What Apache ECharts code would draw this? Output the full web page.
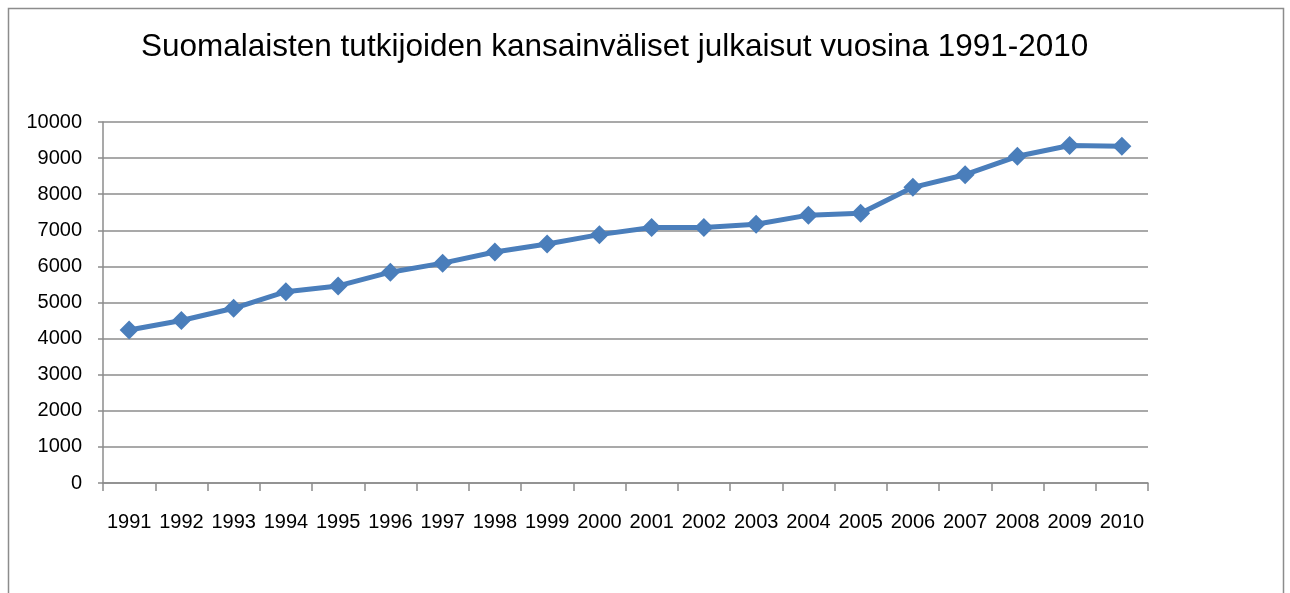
<!DOCTYPE html>
<html>
<head>
<meta charset="utf-8">
<script src="https://cdn.jsdelivr.net/npm/echarts@6/dist/echarts.min.js"></script>
<style>
  html, body { margin: 0; padding: 0; background: #fff; }
  #chart { width: 1290px; height: 593px; }
</style>
</head>
<body>
<div id="chart"></div>
<script>
// data
var years = ['1991', '1992', '1993', '1994', '1995', '1996', '1997', '1998', '1999', '2000',
  '2001', '2002', '2003', '2004', '2005', '2006', '2007', '2008', '2009', '2010']
var publications = [4240, 4500, 4840, 5300, 5460, 5840, 6090, 6400, 6620, 6880,
  7080, 7080, 7170, 7420, 7470, 8190, 8540, 9050, 9350, 9330]
var titleText = 'Suomalaisten tutkijoiden kansainväliset julkaisut vuosina 1991-2010'

var font = '"Liberation Sans", sans-serif'
var gray = '#8c8c8c'
var blue = '#4a7ebb'

var chart = echarts.init(document.getElementById('chart'))
chart.setOption({
  animation: false,
  title: {
    text: titleText,
    left: 136,
    top: 26,
    textStyle: {
      fontFamily: font,
      fontSize: 31.5,
      fontWeight: 'normal',
      color: '#000'
    }
  },
  graphic: [
    {
      type: 'rect',
      shape: { x: 8.5, y: 8.5, width: 1275, height: 620 },
      style: { fill: 'none', stroke: gray, lineWidth: 1.5 },
      silent: true
    }
  ],
  grid: {
    left: 103,
    right: 142,
    top: 122,
    bottom: 110
  },
  xAxis: {
    type: 'category',
    data: years,
    boundaryGap: true,
    axisLine: { lineStyle: { color: gray, width: 1.5 } },
    axisTick: { show: true, length: 8, lineStyle: { color: gray, width: 1.5 } },
    axisLabel: {
      margin: 29,
      interval: 0,
      color: '#000',
      fontFamily: font,
      fontSize: 20
    },
    splitLine: { show: false }
  },
  yAxis: {
    type: 'value',
    min: 0,
    max: 10000,
    interval: 1000,
    axisLine: { show: true, lineStyle: { color: gray, width: 1.5 } },
    axisTick: { show: true, length: 5, lineStyle: { color: gray, width: 1.5 } },
    axisLabel: {
      margin: 21,
      color: '#000',
      fontFamily: font,
      fontSize: 20,
      formatter: function(value) {
        return String(value)
      }
    },
    splitLine: { show: true, lineStyle: { color: gray, width: 1.5 } }
  },
  series: [
    {
      type: 'line',
      data: publications,
      symbol: 'diamond',
      symbolSize: 19,
      itemStyle: { color: blue },
      lineStyle: { color: blue, width: 5 }
    }
  ]
})
</script>
</body>
</html>
